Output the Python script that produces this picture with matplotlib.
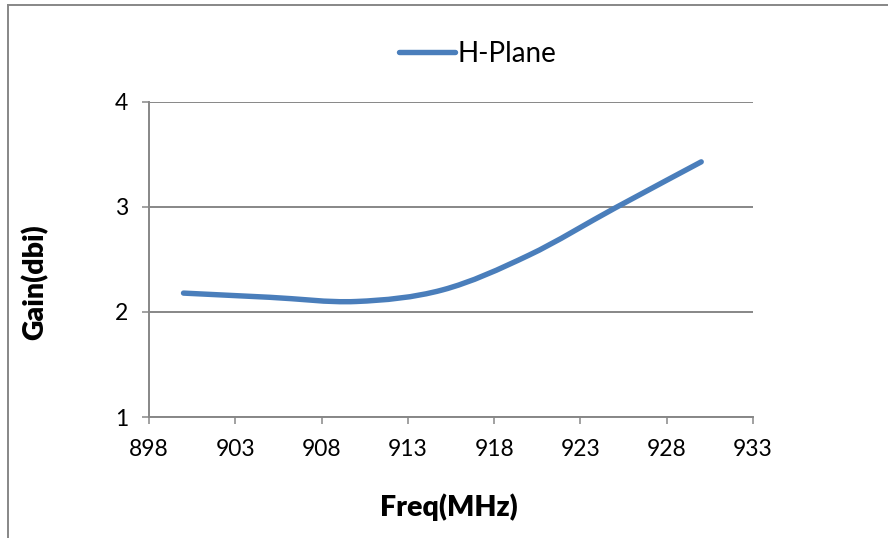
import numpy as np
import matplotlib.pyplot as plt
from matplotlib.path import Path
from matplotlib.patches import PathPatch
from matplotlib.lines import Line2D

# data
freq = [900, 905, 910, 915, 920, 925, 930]
gain = [2.18, 2.14, 2.10, 2.21, 2.54, 2.99, 3.43]

x_ticks = [898, 903, 908, 913, 918, 923, 928, 933]
y_ticks = [1, 2, 3, 4]

line_color = '#4A7EBB'
grid_color = '#878787'

plt.rcParams['font.family'] = ['Lato', 'DejaVu Sans']


def smooth_path(x, y):
    """Excel-like smoothed line: cubic Bezier segments through the points."""
    pts = np.column_stack([x, y]).astype(float)
    ext = np.vstack([pts[0], pts, pts[-1]])
    verts = [pts[0]]
    codes = [Path.MOVETO]
    for i in range(len(pts) - 1):
        p0, p1, p2, p3 = ext[i], ext[i + 1], ext[i + 2], ext[i + 3]
        c1 = p1 + (p2 - p0) / 6.0
        c2 = p2 - (p3 - p1) / 6.0
        verts += [c1, c2, p2]
        codes += [Path.CURVE4] * 3
    return Path(verts, codes)


def main():
    fig = plt.figure(figsize=(8.88, 5.38), dpi=100)
    ax = fig.add_axes([149 / 888, 1 - 417 / 538, 604 / 888, 315 / 538])

    patch = PathPatch(smooth_path(freq, gain), facecolor='none',
                      edgecolor=line_color, lw=3.9, capstyle='round',
                      joinstyle='round', zorder=3)
    ax.add_patch(patch)

    ax.set_xlim(898, 933)
    ax.set_ylim(1, 4)
    ax.set_xticks(x_ticks)
    ax.set_yticks(y_ticks)
    ax.tick_params(axis='both', labelsize=16.5, color=grid_color,
                   width=1.1, length=5, direction='out')
    ax.tick_params(axis='x', pad=11)
    ax.tick_params(axis='y', pad=10)

    ax.grid(axis='y', color=grid_color, lw=1.4)
    ax.set_axisbelow(True)
    for side in ['top', 'right']:
        ax.spines[side].set_visible(False)
    for side in ['left', 'bottom']:
        ax.spines[side].set_color(grid_color)
        ax.spines[side].set_linewidth(1.4)

    fig.text(449 / 888, 1 - 507 / 538, 'Freq(MHz)', fontsize=20.5,
             fontweight='heavy', ha='center', va='center')
    fig.text(35 / 888, 1 - 282 / 538, 'Gain(dbi)', fontsize=20.5,
             fontweight='heavy', ha='center', va='center', rotation=90)

    handle = Line2D([], [], color=line_color, lw=3.9, solid_capstyle='round')
    fig.legend([handle], ['H-Plane'], loc='center',
               bbox_to_anchor=(478 / 888, 1 - 54 / 538), frameon=False,
               fontsize=20, handlelength=2.0, handletextpad=0.1)

    # outer chart-area frame (left and top edges visible)
    fig.add_artist(Line2D([8 / 888, 8 / 888], [0, 1 - 5 / 538],
                          transform=fig.transFigure, color=grid_color, lw=1.4))
    fig.add_artist(Line2D([8 / 888, 1], [1 - 5 / 538, 1 - 5 / 538],
                          transform=fig.transFigure, color=grid_color, lw=1.4))

    fig.savefig('out.png', dpi=100)


if __name__ == '__main__':
    main()
